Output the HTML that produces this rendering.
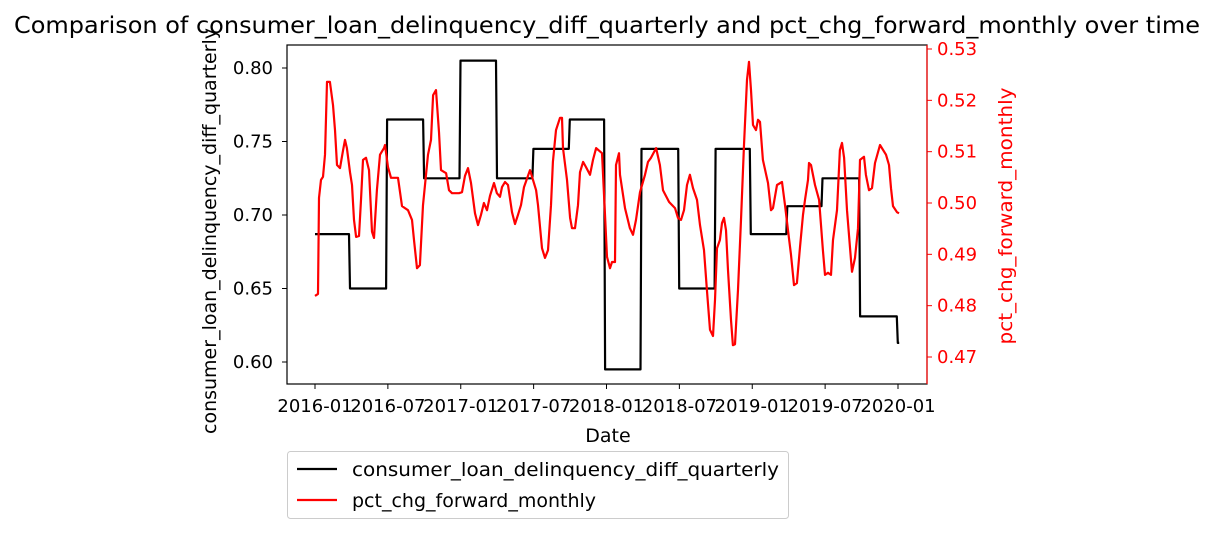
<!DOCTYPE html>
<html><head><meta charset="utf-8"><style>
body{margin:0;background:#fff;}
svg text{font-family:"DejaVu Sans","Liberation Sans",sans-serif;}
</style></head><body>
<svg id="chart" width="1215" height="534" xmlns="http://www.w3.org/2000/svg">
<text x="607" y="33" font-size="23.5" text-anchor="middle" textLength="1186" lengthAdjust="spacingAndGlyphs">Comparison of consumer_loan_delinquency_diff_quarterly and pct_chg_forward_monthly over time</text>
<g id="plot"></g>
<rect x="287" y="45" width="640" height="339" fill="none" stroke="#000" stroke-width="1.2"/>
<line x1="927" y1="45" x2="927" y2="384" stroke="red" stroke-width="1.2"/>
<text x="608" y="442" font-size="19" text-anchor="middle">Date</text>
<text transform="translate(216,231) rotate(-90)" font-size="19" text-anchor="middle">consumer_loan_delinquency_diff_quarterly</text>
<text transform="translate(1012,216) rotate(-90)" font-size="19" text-anchor="middle" fill="red" textLength="257" lengthAdjust="spacingAndGlyphs">pct_chg_forward_monthly</text>
<g>
<rect x="287.5" y="451.5" width="501" height="67" rx="3" fill="#fff" stroke="#ccc"/>
<line x1="297" y1="469" x2="337" y2="469" stroke="#000" stroke-width="2.2"/>
<text x="352" y="476" font-size="19" textLength="427" lengthAdjust="spacingAndGlyphs">consumer_loan_delinquency_diff_quarterly</text>
<line x1="297" y1="500" x2="337" y2="500" stroke="red" stroke-width="2.2"/>
<text x="352" y="507" font-size="19">pct_chg_forward_monthly</text>
</g>
</svg>
<script>
const xTickLabels=["2016-01","2016-07","2017-01","2017-07","2018-01","2018-07","2019-01","2019-07","2020-01"];
const xTickMonths=[0,6,12,18,24,30,36,42,48];
const leftTicks=[0.60,0.65,0.70,0.75,0.80];
const rightTicks=[0.47,0.48,0.49,0.50,0.51,0.52,0.53];
const stepStarts=[0,2.8,5.85,8.9,11.9,14.9,17.9,20.9,23.8,26.8,29.9,32.9,35.8,38.8,41.7,44.8,47.9];
const stepValues=[0.687,0.650,0.765,0.725,0.805,0.725,0.745,0.765,0.595,0.745,0.650,0.745,0.687,0.706,0.725,0.631,0.613];
const stepEnd=48.1;
const redMonths=[0,.25,.33,.49,.66,.82,.99,1.23,1.48,1.65,1.81,2.06,2.31,2.47,2.63,2.88,3.05,3.21,3.38,3.62,3.79,3.95,4.20,4.45,4.69,4.86,5.10,5.35,5.68,5.76,6.01,6.26,6.83,7.16,7.66,7.99,8.15,8.40,8.64,8.89,9.30,9.55,9.72,9.96,10.21,10.37,10.79,11.03,11.28,11.86,12.10,12.35,12.60,12.84,13.17,13.42,13.67,13.91,14.16,14.41,14.74,14.98,15.23,15.40,15.64,15.89,16.22,16.47,16.71,16.96,17.21,17.70,17.95,18.20,18.36,18.69,18.94,19.18,19.43,19.59,19.84,20.17,20.34,20.42,20.75,21.00,21.16,21.41,21.65,21.82,22.07,22.31,22.64,22.89,23.14,23.63,23.88,24.04,24.29,24.45,24.70,24.78,25.03,25.11,25.52,25.93,26.18,26.43,26.76,27.17,27.42,27.66,28.08,28.40,28.65,29.15,29.64,29.89,30.13,30.38,30.63,30.87,31.12,31.45,31.70,32.03,32.27,32.52,32.77,32.93,33.10,33.34,33.51,33.67,33.84,34.00,34.25,34.41,34.58,34.83,35.07,35.32,35.57,35.73,35.90,36.06,36.31,36.47,36.64,36.88,37.30,37.54,37.71,38.04,38.45,38.70,38.94,39.19,39.44,39.68,39.93,40.18,40.34,40.59,40.67,40.84,41.17,41.50,41.82,41.99,42.24,42.48,42.65,42.98,43.22,43.39,43.56,43.80,44.13,44.21,44.46,44.71,44.87,45.20,45.36,45.61,45.86,46.11,46.52,47.01,47.26,47.42,47.59,47.92,48.08];
const redValues=[.4819,.4823,.5010,.5045,.5051,.5094,.5236,.5236,.5191,.5142,.5074,.5068,.5103,.5123,.5107,.5060,.5035,.4967,.4934,.4936,.5006,.5084,.5088,.5064,.4944,.4932,.5025,.5094,.5107,.5113,.5070,.5049,.5049,.4994,.4986,.4967,.4928,.4873,.4879,.4996,.5094,.5123,.5210,.5220,.5138,.5064,.5058,.5025,.5019,.5019,.5021,.5053,.5068,.5039,.4980,.4957,.4977,.5000,.4986,.5014,.5039,.5019,.5012,.5031,.5041,.5035,.4982,.4959,.4977,.4996,.5031,.5064,.5045,.5025,.4996,.4912,.4893,.4908,.4996,.5080,.5142,.5166,.5166,.5107,.5045,.4971,.4951,.4951,.4996,.5060,.5080,.5070,.5055,.5084,.5107,.5097,.4977,.4895,.4873,.4885,.4885,.5074,.5097,.5055,.4990,.4951,.4938,.4967,.5021,.5055,.5080,.5088,.5107,.5074,.5025,.5002,.4990,.4971,.4967,.4986,.5035,.5055,.5029,.5006,.4957,.4908,.4831,.4753,.4741,.4811,.4912,.4928,.4961,.4971,.4947,.4869,.4772,.4723,.4725,.4831,.4967,.5113,.5240,.5275,.5220,.5152,.5142,.5162,.5158,.5084,.5039,.4986,.4990,.5035,.5041,.4996,.4947,.4899,.4840,.4844,.4914,.4977,.5006,.5045,.5078,.5074,.5035,.5006,.4908,.4860,.4864,.4860,.4928,.4986,.5103,.5117,.5088,.4986,.4889,.4866,.4893,.4951,.5084,.5090,.5055,.5025,.5029,.5078,.5113,.5094,.5074,.5029,.4994,.4982,.4980];

const NS="http://www.w3.org/2000/svg";
const X=m=>315+m*(898-315)/48;
const YL=v=>68+(0.80-v)*(362-68)/0.20;
const YR=v=>357-(v-0.47)*(357-49)/0.06;
const plot=document.getElementById('plot');
function mk(tag,attrs,parent){const e=document.createElementNS(NS,tag);for(const k in attrs)e.setAttribute(k,attrs[k]);(parent||plot).appendChild(e);return e;}

xTickMonths.forEach((m,i)=>{
  const t=mk('line',{x1:X(m),x2:X(m),y1:384,y2:389,stroke:'#000'});
  
  
  const l=mk('text',{x:X(m),y:412,'font-size':18,'text-anchor':'middle'});
  
  
  l.textContent=xTickLabels[i];
});
leftTicks.forEach(v=>{
  const t=mk('line',{x1:282,x2:287,y1:YL(v),y2:YL(v),stroke:'#000'});
  
  
  const l=mk('text',{x:273,y:YL(v)+6,'font-size':18,'text-anchor':'end'});
  
  
  l.textContent=v.toFixed(2);
});
rightTicks.forEach(v=>{
  const t=mk('line',{x1:927,x2:932,y1:YR(v),y2:YR(v),stroke:'red'});
  
  
  const l=mk('text',{x:937,y:YR(v)+6,'font-size':18,fill:'red'});
  
  
  l.textContent=v.toFixed(2);
});
let d='';
stepValues.forEach((v,i)=>{
  const s=stepStarts[i], e=i+1<stepStarts.length?stepStarts[i+1]:stepEnd;
  d+=(i?'L':'M')+(X(s)+(i?1:0)).toFixed(1)+','+YL(v).toFixed(1)+'L'+X(e).toFixed(1)+','+YL(v).toFixed(1);
});
const bl=mk('path',{d:d,fill:'none',stroke:'#000','stroke-width':2.2,'stroke-linejoin':'round'});


const rd=redMonths.map((m,i)=>(i?'L':'M')+X(m).toFixed(1)+','+YR(redValues[i]).toFixed(1)).join('');
const rl=mk('path',{d:rd,fill:'none',stroke:'red','stroke-width':2.2,'stroke-linejoin':'round'});


</script>
</body></html>
